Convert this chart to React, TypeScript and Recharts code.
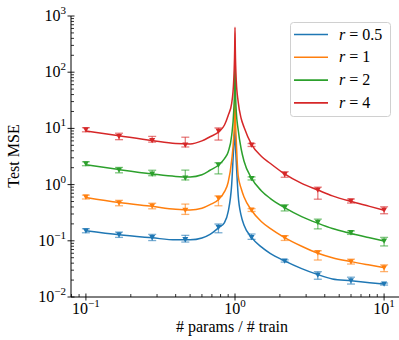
import { ComposedChart, Line, Scatter, ErrorBar, XAxis, YAxis, Legend } from "recharts"

// curve samples
const curveX = [0.1, 0.167, 0.278, 0.4, 0.5, 0.6, 0.68, 0.78, 0.85, 0.9, 0.95, 0.98, 0.995, 1.0, 1.005, 1.02, 1.05, 1.1, 1.15, 1.29, 1.5, 1.72, 2.15, 2.8, 3.6, 4.5, 6, 8, 10]
const curveR05 = [0.151, 0.128, 0.113, 0.104, 0.104, 0.112, 0.13, 0.172, 0.21, 0.33, 1.0, 4.5, 8, 10, 6, 2.5, 0.65, 0.28, 0.19, 0.115, 0.078, 0.06, 0.044, 0.032, 0.025, 0.021, 0.0195, 0.018, 0.017]
const curveR1 = [0.59, 0.48, 0.41, 0.365, 0.355, 0.38, 0.44, 0.55, 0.75, 1.1, 2.7, 7, 18, 40, 18, 6, 1.45, 0.85, 0.6, 0.35, 0.22, 0.166, 0.114, 0.08, 0.06, 0.05, 0.0426, 0.037, 0.0333]
const curveR2 = [2.25, 1.85, 1.55, 1.4, 1.37, 1.5, 1.8, 2.25, 2.9, 3.8, 7.5, 20, 60, 160, 60, 20, 9.5, 4.3, 2.6, 1.3, 0.78, 0.57, 0.39, 0.27, 0.205, 0.165, 0.135, 0.113, 0.099]
const curveR4 = [9.0, 7.4, 6.1, 5.4, 5.3, 6.0, 7.1, 8.7, 11.5, 17, 28, 70, 250, 630, 250, 70, 30, 15, 10.5, 5.2, 3.2, 2.4, 1.55, 1.05, 0.8, 0.63, 0.5, 0.41, 0.35]

// simulated points with error bars [minus, plus]
const pointX = [0.1, 0.1668, 0.2783, 0.4642, 0.7743, 1.2915, 2.1544, 3.5938, 5.9948, 10]
const pointsR05 = [0.151, 0.128, 0.114, 0.105, 0.174, 0.115, 0.0438, 0.0247, 0.0195, 0.017]
const errR05 = [[0.012, 0.013], [0.013, 0.015], [0.013, 0.016], [0.01, 0.02], [0.035, 0.025], [0.009, 0.017], [0.002, 0.002], [0.004, 0.0035], [0.0025, 0.003], [0.0007, 0.0007]]
const pointsR1 = [0.6, 0.47, 0.416, 0.35, 0.57, 0.353, 0.1135, 0.0615, 0.0426, 0.0333]
const errR1 = [[0.045, 0.05], [0.05, 0.055], [0.045, 0.05], [0.055, 0.1], [0.15, 0.06], [0.02, 0.02], [0.012, 0.01], [0.016, 0.005], [0.004, 0.0045], [0.005, 0.004]]
const pointsR2 = [2.35, 1.82, 1.55, 1.31, 2.23, 1.29, 0.39, 0.213, 0.14, 0.099]
const errR2 = [[0.18, 0.2], [0.2, 0.2], [0.11, 0.25], [0.1, 0.5], [0.68, 0.22], [0.08, 0.08], [0.05, 0.05], [0.05, 0.03], [0.01, 0.01], [0.018, 0.016]]
const pointsR4 = [9.5, 7.2, 6.1, 5.07, 9.0, 5.07, 1.52, 0.8, 0.51, 0.353]
const errR4 = [[0.8, 0.8], [0.9, 1.0], [0.4, 1.1], [0.4, 1.9], [2.8, 1.2], [0.3, 0.3], [0.17, 0.18], [0.25, 0.1], [0.04, 0.045], [0.05, 0.05]]

const seriesNames = ["0.5", "1", "2", "4"]
const colors = ["#1f77b4", "#ff7f0e", "#2ca02c", "#d62728"]

const xMajor = [0.1, 1, 10]
const xMinor = [0.08, 0.09, 0.2, 0.3, 0.4, 0.5, 0.6, 0.7, 0.8, 0.9, 2, 3, 4, 5, 6, 7, 8, 9]
const yMajor = [0.01, 0.1, 1, 10, 100, 1000]
const yMinor = [2, 3, 4, 5, 6, 7, 8, 9].flatMap((m) => [0.01, 0.1, 1, 10, 100].map((d) => m * d))

const curves = [curveR05, curveR1, curveR2, curveR4].map((ys) => curveX.map((x, i) => ({ x, y: ys[i] })))
const points = [
  [pointsR05, errR05],
  [pointsR1, errR1],
  [pointsR2, errR2],
  [pointsR4, errR4],
].map(([ys, errs]) => pointX.map((x, i) => ({ x, y: (ys as number[])[i], err: (errs as number[][])[i] })))

const FONT = "Liberation Serif"

const isMajor = (v: number) => Math.abs(Math.log10(v) - Math.round(Math.log10(v))) < 1e-6
const expOf = (v: number) => {
  const e = Math.round(Math.log10(v))
  return e < 0 ? "\u2212" + Math.abs(e) : String(e)
}

function XTick(props: any) {
  const { x, y, payload } = props
  const v = payload.value
  if (!isMajor(v)) return <line x1={x} x2={x} y1={y} y2={y - 3} stroke="#000" strokeWidth={0.8} />
  return (
    <g>
      <line x1={x} x2={x} y1={y - 3.5} y2={y + 3.5} stroke="#000" strokeWidth={0.9} />
      <text x={x} y={y + 17} textAnchor="middle" style={{ fontFamily: FONT, fontSize: 16 }} fill="#000">
        10<tspan dy={-7} style={{ fontSize: 11 }}>{expOf(v)}</tspan>
      </text>
    </g>
  )
}

function YTick(props: any) {
  const { x, y, payload } = props
  const v = payload.value
  if (!isMajor(v)) return <line x1={x} x2={x + 3} y1={y} y2={y} stroke="#000" strokeWidth={0.8} />
  return (
    <g>
      <line x1={x - 3.5} x2={x + 3.5} y1={y} y2={y} stroke="#000" strokeWidth={0.9} />
      <text x={x - 5} y={y + 5} textAnchor="end" style={{ fontFamily: FONT, fontSize: 16 }} fill="#000">
        10<tspan dy={-7} style={{ fontSize: 11 }}>{expOf(v)}</tspan>
      </text>
    </g>
  )
}

function Triangle(props: any) {
  const { cx, cy, fill } = props
  if (cx == null || cy == null) return null
  return <path d={`M${cx - 3},${cy - 2.5} L${cx + 3},${cy - 2.5} L${cx},${cy + 2.8} Z`} fill={fill} />
}

function LegendBox() {
  return (
    <svg width={102} height={96} style={{ display: "block" }}>
      <rect x={0.5} y={0.5} width={100} height={94} rx={3} fill="#fff" fillOpacity={0.8} stroke="#d0d0d0" />
      {seriesNames.map((n, i) => (
        <g key={n}>
          <line x1={4} x2={38} y1={12.5 + i * 22.8} y2={12.5 + i * 22.8} stroke={colors[i]} strokeWidth={1.6} />
          <text x={49} y={17.5 + i * 22.8} style={{ fontFamily: FONT, fontSize: 16 }} fill="#000">
            <tspan fontStyle="italic">r</tspan> = {n}
          </text>
        </g>
      ))}
    </svg>
  )
}

export default function App() {
  return (
    <div style={{ position: "absolute", left: 0, top: 0, width: 399, height: 340, background: "#fff" }}>
      <ComposedChart width={399} height={340} margin={{ top: 16, right: 0, bottom: 0, left: 11 }}>
        <XAxis
          dataKey="x"
          type="number"
          scale="log"
          domain={[Math.pow(10, -1.1), Math.pow(10, 1.1)]}
          allowDataOverflow
          ticks={[...xMajor, ...xMinor].sort((a, b) => a - b)}
          interval={0}
          tickSize={0}
          tickMargin={0}
          tickLine={false}
          tick={<XTick />}
          height={43}
          axisLine={{ stroke: "#000", strokeWidth: 1 }}
          label={{
            content: () => (
              <text x={232} y={332} textAnchor="middle" style={{ fontFamily: FONT, fontSize: 16 }} fill="#000">
                # params / # train
              </text>
            ),
          }}
        />
        <YAxis
          dataKey="y"
          type="number"
          scale="log"
          domain={[0.01, 1000]}
          allowDataOverflow
          ticks={[...yMajor, ...yMinor].sort((a, b) => a - b)}
          interval={0}
          tickSize={0}
          tickMargin={0}
          tickLine={false}
          tick={<YTick />}
          width={60}
          axisLine={{ stroke: "#000", strokeWidth: 1 }}
          label={{
            content: () => (
              <text x={19} y={156} textAnchor="middle" style={{ fontFamily: FONT, fontSize: 16 }} fill="#000" transform="rotate(-90 19 156)">
                Test MSE
              </text>
            ),
          }}
        />
        {curves.map((c, i) => (
          <Line
            key={"l" + i}
            data={c}
            dataKey="y"
            type="monotone"
            stroke={colors[i]}
            strokeWidth={1.5}
            dot={false}
            isAnimationActive={false}
            name={"r = " + seriesNames[i]}
          />
        ))}
        {points.map((p, i) => (
          <Scatter
            key={"s" + i}
            data={p}
            fill={colors[i]}
            shape={<Triangle />}
            isAnimationActive={false}
            legendType="none"
          >
            <ErrorBar dataKey="err" direction="y" width={4} stroke={colors[i]} strokeOpacity={0.6} strokeWidth={1.3} isAnimationActive={false} />
          </Scatter>
        ))}
        <Legend
          layout="horizontal"
          verticalAlign="middle"
          align="center"
          content={() => <LegendBox />}
          wrapperStyle={{ top: 22, left: 290, width: 102, height: 96 }}
        />
      </ComposedChart>
    </div>
  )
}
